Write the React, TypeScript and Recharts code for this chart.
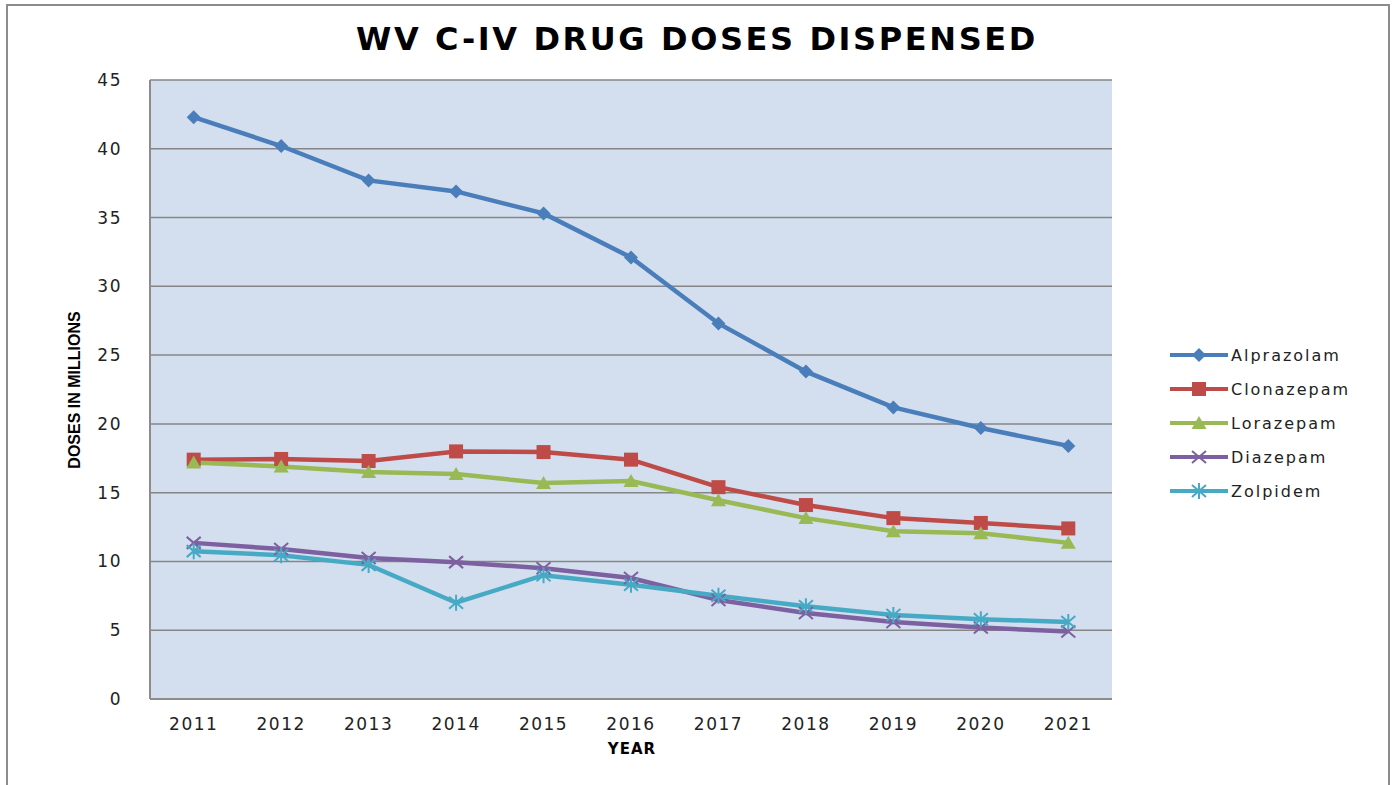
import React from 'react';
import {LineChart, Line, XAxis, YAxis, CartesianGrid} from 'recharts';

const years = ['2011', '2012', '2013', '2014', '2015', '2016', '2017', '2018', '2019', '2020', '2021'];
const alprazolam = [42.3, 40.2, 37.7, 36.9, 35.3, 32.1, 27.3, 23.8, 21.2, 19.7, 18.4];
const clonazepam = [17.4, 17.45, 17.3, 18.0, 17.95, 17.4, 15.4, 14.1, 13.15, 12.8, 12.4];
const lorazepam = [17.2, 16.9, 16.5, 16.35, 15.7, 15.85, 14.45, 13.15, 12.2, 12.05, 11.35];
const diazepam = [11.35, 10.9, 10.25, 9.95, 9.5, 8.8, 7.2, 6.25, 5.6, 5.2, 4.9];
const zolpidem = [10.75, 10.45, 9.75, 7.0, 9.0, 8.3, 7.5, 6.75, 6.1, 5.8, 5.6];
const yTicks = [0, 5, 10, 15, 20, 25, 30, 35, 40, 45];

const data = years.map((year, i) => ({
  year,
  Alprazolam: alprazolam[i],
  Clonazepam: clonazepam[i],
  Lorazepam: lorazepam[i],
  Diazepam: diazepam[i],
  Zolpidem: zolpidem[i],
}));

type Shape = 'diamond' | 'square' | 'triangle' | 'x' | 'star';

const series: {key: string; color: string; shape: Shape}[] = [
  {key: 'Alprazolam', color: '#4a7ebb', shape: 'diamond'},
  {key: 'Clonazepam', color: '#be4b48', shape: 'square'},
  {key: 'Lorazepam', color: '#98b954', shape: 'triangle'},
  {key: 'Diazepam', color: '#7d60a0', shape: 'x'},
  {key: 'Zolpidem', color: '#46aac5', shape: 'star'},
];

function marker(shape: Shape, cx: number, cy: number, color: string, key?: string) {
  switch (shape) {
    case 'diamond':
      return <path key={key} d={`M${cx},${cy - 7} L${cx + 7},${cy} L${cx},${cy + 7} L${cx - 7},${cy} Z`} fill={color}/>;
    case 'square':
      return <rect key={key} x={cx - 7} y={cy - 7} width={14} height={14} fill={color}/>;
    case 'triangle':
      return <path key={key} d={`M${cx},${cy - 7} L${cx + 7.5},${cy + 6} L${cx - 7.5},${cy + 6} Z`} fill={color}/>;
    case 'x':
      return (
        <path key={key} d={`M${cx - 7},${cy - 6} L${cx + 7},${cy + 6} M${cx + 7},${cy - 6} L${cx - 7},${cy + 6}`}
              stroke={color} strokeWidth={2}/>
      );
    case 'star':
      return (
        <path key={key}
              d={`M${cx - 7},${cy - 6} L${cx + 7},${cy + 6} M${cx + 7},${cy - 6} L${cx - 7},${cy + 6} M${cx},${cy - 8} L${cx},${cy + 8}`}
              stroke={color} strokeWidth={2}/>
      );
  }
}

const tickFont = {fontFamily: 'DejaVu Sans', fontSize: 17, fill: '#222', letterSpacing: 1.5};

export default function App() {
  return (
    <div style={{position: 'absolute', left: 0, top: 0, width: 1398, height: 785, background: '#fff', overflow: 'hidden'}}>
      <div style={{position: 'absolute', left: 6, top: 4, width: 1384, height: 800, border: '2px solid #8c8c8c', boxSizing: 'border-box'}}/>
      <div style={{
        position: 'absolute', left: 0, width: 1394, top: 20, textAlign: 'center',
        fontFamily: 'DejaVu Sans', fontWeight: 'bold', fontSize: 32, letterSpacing: 2.6, color: '#000',
      }}>
        WV C-IV DRUG DOSES DISPENSED
      </div>
      <div style={{
        position: 'absolute', left: 75, top: 390, transform: 'translate(-50%, -50%) rotate(-90deg)',
        whiteSpace: 'nowrap', fontFamily: '"Liberation Sans Narrow", "Liberation Sans", sans-serif',
        fontWeight: 'bold', fontSize: 16, color: '#000',
      }}>
        DOSES IN MILLIONS
      </div>
      <div style={{
        position: 'absolute', left: 0, width: 1264, top: 740, textAlign: 'center',
        fontFamily: 'DejaVu Sans', fontWeight: 'bold', fontSize: 15, letterSpacing: 1, color: '#000',
      }}>
        YEAR
      </div>
      <LineChart width={1398} height={785} data={data}
                 margin={{top: 80, right: 286, bottom: 56, left: 0}}
                 style={{position: 'absolute', left: 0, top: 0}}>
        <CartesianGrid vertical={false} horizontal stroke="#868686" strokeWidth={1.5} fill="#d3dfee" fillOpacity={1}/>
        <XAxis dataKey="year" padding={{left: 43.7, right: 43.7}} tickLine={false} height={30}
               axisLine={{stroke: '#8c8c8c', strokeWidth: 2}} tick={tickFont} tickMargin={13} interval={0}/>
        <YAxis width={150} domain={[0, 45]} ticks={yTicks} tickLine={false}
               axisLine={{stroke: '#8c8c8c', strokeWidth: 2}} tick={tickFont} tickMargin={22}/>
        {series.map(s => (
          <Line key={s.key} dataKey={s.key} stroke={s.color} strokeWidth={4.5} isAnimationActive={false}
                dot={(p: any) => marker(s.shape, p.cx, p.cy, s.color, `${s.key}-${p.index}`)}
                activeDot={false}/>
        ))}
      </LineChart>
      <div style={{position: 'absolute', left: 1170, top: 338}}>
        {series.map(s => (
          <div key={s.key} style={{display: 'flex', alignItems: 'center', height: 34}}>
            <svg width={58} height={20}>
              <line x1={0} y1={10} x2={58} y2={10} stroke={s.color} strokeWidth={4}/>
              {marker(s.shape, 29, 10, s.color)}
            </svg>
            <span style={{marginLeft: 3, fontFamily: 'DejaVu Sans', fontSize: 16, letterSpacing: 2, color: '#222'}}>{s.key}</span>
          </div>
        ))}
      </div>
    </div>
  );
}
